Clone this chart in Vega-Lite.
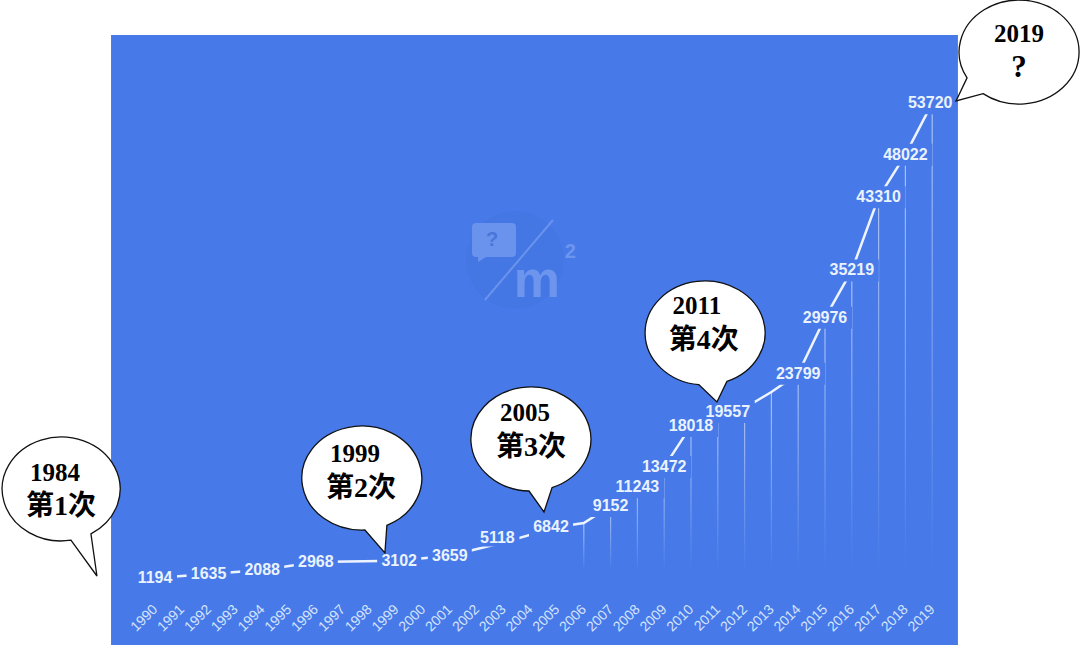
{
"$schema":"https://vega.github.io/schema/vega-lite/v6.json",
"width":1080,"height":647,"padding":0,"autosize":"none","background":"#ffffff",
"config":{"view":{"stroke":null}},
"datasets":{
"series":[
{"year":1990,"value":1194,"labeled":true},{"year":1992,"value":1635,"labeled":true},{"year":1994,"value":2088,"labeled":true},{"year":1996,"value":2968,"labeled":true},{"year":1999,"value":3102,"labeled":true},{"year":2001,"value":3659,"labeled":true},{"year":2003,"value":5118,"labeled":true},{"year":2005,"value":6842,"labeled":true},{"year":2006,"value":7280,"labeled":false},{"year":2007,"value":9152,"labeled":true},{"year":2008,"value":11243,"labeled":true},{"year":2009,"value":13472,"labeled":true},{"year":2010,"value":18018,"labeled":true},{"year":2011,"value":19557,"labeled":true},{"year":2012,"value":20000,"labeled":false},{"year":2013,"value":21770,"labeled":false},{"year":2014,"value":23799,"labeled":true},{"year":2015,"value":29976,"labeled":true},{"year":2016,"value":35219,"labeled":true},{"year":2017,"value":43310,"labeled":true},{"year":2018,"value":48022,"labeled":true},{"year":2019,"value":53720,"labeled":true}],
"panel":[{"year":1988.36,"year2":2019.96,"value":61260,"value2":-6218}],
"bubbles":[{"id":"1984","year":1986.49,"value":11039},{"id":"1999","year":1997.72,"value":12256},{"id":"2005","year":2004.03,"value":16570},{"id":"2011","year":2010.52,"value":28296},{"id":"2019","year":2022.24,"value":59380}],
"notes":[{"text":"1984","year":1986.27,"value":12809},{"text":"第1次","year":1986.49,"value":9048},{"text":"1999","year":1997.46,"value":14911},{"text":"第2次","year":1997.69,"value":11039},{"text":"2005","year":2003.81,"value":19446},{"text":"第3次","year":2004.03,"value":15574},{"text":"2011","year":2010.22,"value":31282},{"text":"第4次","year":2010.48,"value":27411},{"text":"2019","year":2022.24,"value":61371},{"text":"?","year":2022.24,"value":57610}],
"wmCircle":[{"year":2003.43,"value":36371}],
"wmBox":[{"year":2002.65,"value":38584}],
"wmLine":[{"year":2002.31,"year2":2004.85,"value":31946,"value2":40796}],
"wmText":[{"glyph":"?","year":2002.58,"value":38584},{"glyph":"m","year":2004.25,"value":34048},{"glyph":"2","year":2005.5,"value":37300}]
},
"encoding":{
"x":{"field":"year","type":"quantitative","scale":{"domain":[1984.2164,2024.5149],"nice":false,"zero":false,"padding":0},
"axis":{"title":null,"orient":"bottom","offset":-42,"zindex":1,"domain":false,"ticks":false,"grid":false,"values":[1990,1991,1992,1993,1994,1995,1996,1997,1998,1999,2000,2001,2002,2003,2004,2005,2006,2007,2008,2009,2010,2011,2012,2013,2014,2015,2016,2017,2018,2019],"format":"d","labelAngle":-45,"labelAlign":"right","labelBaseline":"middle","labelPadding":2,"labelColor":"#D5E4FF","labelFont":"Liberation Sans","labelFontSize":14,"labelOverlap":false,"labelBound":false,"labelFlush":false}},
"y":{"field":"value","type":"quantitative","axis":null,"scale":{"domain":[-6439,65132],"nice":false,"zero":false,"padding":0}}
},
"layer":[
{"data":{"name":"panel"},"mark":{"type":"rect","fill":"#477AE8"},"encoding":{"x2":{"field":"year2"},"y2":{"field":"value2"}}},
{"data":{"name":"wmCircle"},"mark":{"type":"point","filled":true,"shape":"circle","size":9500,"fill":"#4274E0","opacity":0.5,"stroke":null}},
{"data":{"name":"wmBox"},"mark":{"type":"point","filled":true,"size":4,"fill":"#6A93EE","opacity":1,"stroke":null,"shape":"M-18,-17H18Q22,-17 22,-13V13Q22,17 18,17H-8L-16,22V17H-18Q-22,17 -22,13V-13Q-22,-17 -18,-17Z"}},
{"data":{"name":"wmLine"},"mark":{"type":"rule","stroke":"#6A93EE","strokeWidth":2},"encoding":{"x2":{"field":"year2"},"y2":{"field":"value2"}}},
{"data":{"name":"wmText"},"mark":{"type":"text","font":"Liberation Sans","fontWeight":"bold","align":"center","baseline":"middle"},"encoding":{"text":{"field":"glyph"},"size":{"condition":{"test":"datum.glyph==='m'","value":52},"value":20},"color":{"condition":{"test":"datum.glyph==='?'","value":"#4A76D8"},"value":"#6D95EE"}}},
{"data":{"name":"series"},"transform":[{"filter":"datum.year>=2006"}],"mark":{"type":"bar","width":1.2,"orient":"vertical","fill":{"gradient":"linear","x1":0,"y1":0,"x2":0,"y2":1,"stops":[{"offset":0,"color":"rgba(255,255,255,0.55)"},{"offset":1,"color":"rgba(255,255,255,0)"}]}},"encoding":{"y2":{"datum":2000}}},
{"data":{"name":"series"},"mark":{"type":"line","stroke":"#EEF4FF","strokeWidth":2.5}},
{"data":{"name":"series"},"transform":[{"filter":"datum.labeled"}],"mark":{"type":"point","filled":true,"size":4,"fill":"#477AE8","opacity":1,"stroke":null},"encoding":{"shape":{"condition":[{"test":"datum.year===2011","value":"M-17,-11H37V11H-17Z"},{"test":"datum.year===2019","value":"M-27,-11H25V11H-27Z"},{"test":"datum.year===2003","value":"M-28,-16H16V4H-28Z"},{"test":"datum.year===2005","value":"M-28,-11H16V11H-28Z"},{"test":"datum.year===1999","value":"M-19,-11H25V11H-19Z"},{"test":"datum.value>=10000","value":"M-27,-11H27V11H-27Z"}],"value":"M-22,-11H22V11H-22Z"}}},
{"data":{"name":"series"},"transform":[{"filter":"datum.labeled&&datum.year!==2011&&datum.year!==2003&&datum.year!==2005&&datum.year!==1999&&datum.year!==2019"}],"mark":{"type":"text","font":"Liberation Sans","fontWeight":"bold","fontSize":16,"fill":"#EAF2FF","align":"center","baseline":"middle"},"encoding":{"text":{"field":"value","type":"quantitative","format":"d"}}},
{"data":{"name":"series"},"transform":[{"filter":"datum.year===2003"}],"mark":{"type":"text","dx":-6,"dy":-5,"font":"Liberation Sans","fontWeight":"bold","fontSize":16,"fill":"#EAF2FF","align":"center","baseline":"middle"},"encoding":{"text":{"field":"value","type":"quantitative","format":"d"}}},
{"data":{"name":"series"},"transform":[{"filter":"datum.year===2005"}],"mark":{"type":"text","dx":-6,"font":"Liberation Sans","fontWeight":"bold","fontSize":16,"fill":"#EAF2FF","align":"center","baseline":"middle"},"encoding":{"text":{"field":"value","type":"quantitative","format":"d"}}},
{"data":{"name":"series"},"transform":[{"filter":"datum.year===2011"}],"mark":{"type":"text","dx":10,"font":"Liberation Sans","fontWeight":"bold","fontSize":16,"fill":"#EAF2FF","align":"center","baseline":"middle"},"encoding":{"text":{"field":"value","type":"quantitative","format":"d"}}},
{"data":{"name":"series"},"transform":[{"filter":"datum.year===1999"}],"mark":{"type":"text","dx":3,"font":"Liberation Sans","fontWeight":"bold","fontSize":16,"fill":"#EAF2FF","align":"center","baseline":"middle"},"encoding":{"text":{"field":"value","type":"quantitative","format":"d"}}},
{"data":{"name":"series"},"transform":[{"filter":"datum.year===2019"}],"mark":{"type":"text","dx":-2,"font":"Liberation Sans","fontWeight":"bold","fontSize":16,"fill":"#EAF2FF","align":"center","baseline":"middle"},"encoding":{"text":{"field":"value","type":"quantitative","format":"d"}}},
{"data":{"name":"bubbles"},"mark":{"type":"point","filled":true,"size":4,"fill":"#ffffff","stroke":"#111111","strokeWidth":1.3,"opacity":1},"encoding":{"shape":{"field":"id","type":"nominal","legend":null,"scale":{"domain":["1984","1999","2005","2011","2019"],"range":["M10,51.2L36,87L30,44.8A59,52 0 1 0 10,51.2Z","M3,52L23,75L25,47.3A60,52 0 1 0 3,52Z","M-2,52L13,73L21,48.7A60,52 0 1 0 -2,52Z","M-6,51.7L12,69L22,48.4A60,52 0 1 0 -6,51.7Z","M-52,25.9L-63,49L-36,41.6A60,52 0 1 0 -52,25.9Z"]}}}},
{"data":{"name":"notes"},"mark":{"type":"text","font":"Liberation Serif, Noto Sans CJK SC","fontWeight":"bold","fill":"#000000","align":"center","baseline":"middle"},"encoding":{"text":{"field":"text"},"size":{"condition":[{"test":"indexof(datum.text,'次')>=0","value":28},{"test":"datum.text==='?'","value":31}],"value":25}}}
]
}
